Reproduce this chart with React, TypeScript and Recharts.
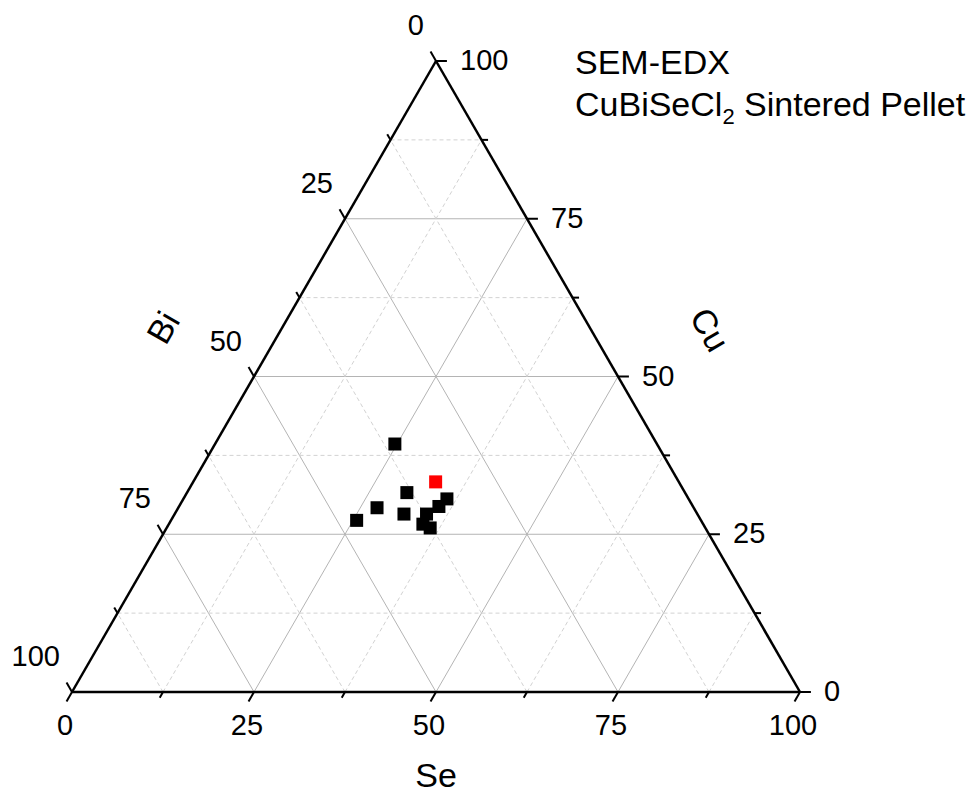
import { ScatterChart, Scatter, XAxis, YAxis, ReferenceLine, ReferenceDot } from 'recharts';

const H = Math.sqrt(3) / 2;
const FONT = '"Liberation Sans", Arial, sans-serif';

// SEM-EDX measured compositions (at.%)
const cuMeasured = [39.3, 31.6, 29.2, 27.2, 28.2, 30.6, 29.4, 28.2, 26.6, 26.0];
const seMeasured = [24.7, 30.2, 27.3, 25.5, 31.5, 36.2, 35.7, 34.6, 34.9, 36.2];
const biMeasured = [36.0, 38.2, 43.5, 47.3, 40.3, 33.2, 34.9, 37.2, 38.5, 37.8];

// nominal CuBiSeCl2 (1:1:1)
const cuNominal = [33.3];
const seNominal = [33.3];
const biNominal = [33.4];

const majorTicks = [0, 25, 50, 75, 100];
const minorTicks = [12.5, 37.5, 62.5, 87.5];
const gridMajor = [25, 50, 75];

// ternary -> cartesian (Bi bottom-left, Se bottom-right, Cu top)
const toXY = (se: number, cu: number) => ({ x: se + cu / 2, y: cu * H });

const build = (cu: number[], se: number[], bi: number[]) =>
  cu.map((c, i) => {
    const t = c + se[i] + bi[i];
    return toXY((se[i] / t) * 100, (c / t) * 100);
  });

const measured = build(cuMeasured, seMeasured, biMeasured);
const nominal = build(cuNominal, seNominal, biNominal);

const square = (color: string) => (props: any) => (
  <rect x={props.cx - 6.5} y={props.cy - 6.5} width={13} height={13} fill={color} />
);

const textShape =
  (txt: string, dx: number, dy: number, anchor: string, size: number, rotate = 0) =>
  (props: any) => {
    const x = props.cx + dx;
    const y = props.cy + dy;
    return (
      <text
        x={x}
        y={y}
        textAnchor={anchor}
        dominantBaseline="central"
        fontSize={size}
        fontFamily={FONT}
        fill="#000"
        transform={rotate ? `rotate(${rotate} ${x} ${y})` : undefined}
      >
        {txt}
      </text>
    );
  };

// gridline segments for constant value v of each component
const cuLine = (v: number) => [toXY(0, v), toXY(100 - v, v)];
const seLine = (v: number) => [toXY(v, 0), toXY(v, 100 - v)];
const biLine = (v: number) => [toXY(100 - v, 0), toXY(0, 100 - v)];

// ticks (extension of grid lines outside the triangle)
const cuTick = (v: number, L: number) => {
  const p = toXY(100 - v, v);
  return [p, { x: p.x + L, y: p.y }];
};
const seTick = (v: number, L: number) => {
  const p = toXY(v, 0);
  return [p, { x: p.x - 0.5 * L, y: p.y - H * L }];
};
const biTick = (v: number, L: number) => {
  const p = toXY(0, 100 - v);
  return [p, { x: p.x - 0.5 * L, y: p.y + H * L }];
};

const MAJOR_LEN = 1.5;
const MINOR_LEN = 0.9;
const TICK_FS = 29;
const TITLE_FS = 34;

const App = () => {
  const lines: any[] = [];
  gridMajor.forEach((v) => {
    [cuLine(v), seLine(v), biLine(v)].forEach((seg, j) =>
      lines.push(
        <ReferenceLine key={`gM-${v}-${j}`} segment={seg} stroke="#b4b4b4" strokeWidth={1} ifOverflow="visible" />
      )
    );
  });
  minorTicks.forEach((v) => {
    [cuLine(v), seLine(v), biLine(v)].forEach((seg, j) =>
      lines.push(
        <ReferenceLine
          key={`gm-${v}-${j}`}
          segment={seg}
          stroke="#d2d2d2"
          strokeWidth={1}
          strokeDasharray="4 3"
          ifOverflow="visible"
        />
      )
    );
  });
  const ticks: any[] = [];
  [...majorTicks.map((v) => [v, MAJOR_LEN]), ...minorTicks.map((v) => [v, MINOR_LEN])].forEach(([v, L]) => {
    [cuTick(v, L), seTick(v, L), biTick(v, L)].forEach((seg, j) =>
      ticks.push(
        <ReferenceLine key={`t-${v}-${j}`} segment={seg} stroke="#000" strokeWidth={2} ifOverflow="visible" />
      )
    );
  });

  const labels: any[] = [];
  majorTicks.forEach((v) => {
    const c = toXY(100 - v, v);
    labels.push(
      <ReferenceDot key={`lc-${v}`} x={c.x} y={c.y} r={0} ifOverflow="visible" shape={textShape(String(v), 24, -1, 'start', TICK_FS)} />
    );
    const s = toXY(v, 0);
    labels.push(
      <ReferenceDot key={`ls-${v}`} x={s.x} y={s.y} r={0} ifOverflow="visible" shape={textShape(String(v), -7, 33, 'middle', TICK_FS)} />
    );
    const b = toXY(0, 100 - v);
    labels.push(
      <ReferenceDot key={`lb-${v}`} x={b.x} y={b.y} r={0} ifOverflow="visible" shape={textShape(String(v), -12, -36, 'end', TICK_FS)} />
    );
  });

  const outline = [
    [toXY(0, 0), toXY(100, 0)],
    [toXY(100, 0), toXY(0, 100)],
    [toXY(0, 100), toXY(0, 0)],
  ];

  return (
    <div style={{ position: 'relative', width: 960, height: 790, fontFamily: FONT }}>
      <ScatterChart width={960} height={790} margin={{ top: 53, right: 168, bottom: 106, left: 64 }}>
        <XAxis type="number" dataKey="x" domain={[0, 100]} hide />
        <YAxis type="number" dataKey="y" domain={[0, 100 * H]} hide width={0} />
        {lines}
        {ticks}
        {outline.map((seg, i) => (
          <ReferenceLine key={`o-${i}`} segment={seg} stroke="#000" strokeWidth={2.5} ifOverflow="visible" />
        ))}
        {labels}
        <ReferenceDot x={50} y={0} r={0} ifOverflow="visible" shape={textShape('Se', 0, 83, 'middle', TITLE_FS)} />
        <ReferenceDot x={25} y={50 * H} r={0} ifOverflow="visible" shape={textShape('Bi', -91, -49, 'middle', TITLE_FS, -60)} />
        <ReferenceDot x={75} y={50 * H} r={0} ifOverflow="visible" shape={textShape('Cu', 92, -47, 'middle', TITLE_FS, 60)} />
        <Scatter data={measured} fill="#000" shape={square('#000')} isAnimationActive={false} />
        <Scatter data={nominal} fill="#ff0000" shape={square('#ff0000')} isAnimationActive={false} />
      </ScatterChart>
      <div
        style={{
          position: 'absolute',
          left: 567,
          top: 33,
          fontSize: 34,
          lineHeight: '42px',
          color: '#000',
          whiteSpace: 'nowrap',
        }}
      >
        <div>SEM-EDX</div>
        <div>
          CuBiSeCl<sub style={{ fontSize: 22, lineHeight: 0 }}>2</sub> Sintered Pellet
        </div>
      </div>
    </div>
  );
};

export default App;
